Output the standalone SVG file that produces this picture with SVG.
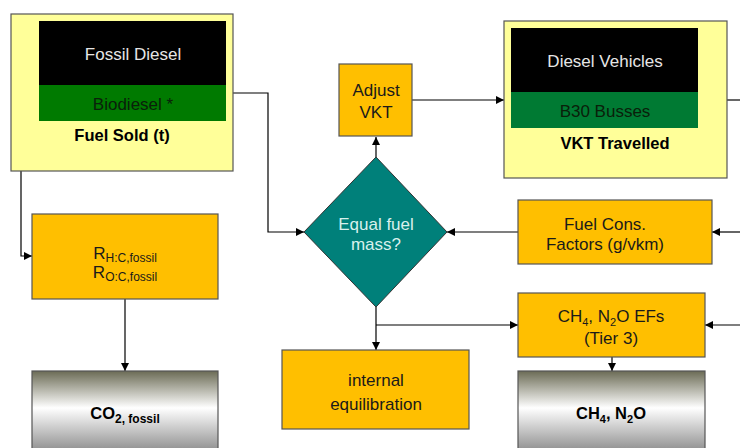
<svg xmlns="http://www.w3.org/2000/svg" width="740" height="448" viewBox="0 0 740 448">
<style>
text{font-family:"Liberation Sans",Arial,sans-serif;text-anchor:middle;font-size:17px;fill:#1a1a1a}
.b{font-weight:bold;font-size:16.5px;fill:#000}
.w{fill:#e6e6e6}
.d{fill:#0a200a}
.t{fill:#d8f0ec}
.y{fill:#ffff99;stroke:#555;stroke-width:1.2}
.o{fill:#ffbf00;stroke:#555;stroke-width:1.2}
.g{fill:url(#grad);stroke:#555;stroke-width:1.2}
.c{fill:none;stroke:#000;stroke-width:1.2}
</style>
<defs>
<linearGradient id="grad" x1="0" y1="0" x2="0" y2="1">
<stop offset="0" stop-color="#6b6b55"/>
<stop offset="0.45" stop-color="#ffffff"/>
<stop offset="1" stop-color="#8a8a8a"/>
</linearGradient>
<marker id="a" viewBox="0 0 10 10" refX="10" refY="5" markerWidth="8" markerHeight="8" markerUnits="userSpaceOnUse" orient="auto">
<path d="M0,0L10,5L0,10z" fill="#000"/>
</marker>
</defs>
<g id="connectors">
<polyline class="c" points="39,53 21,53 21,256 32,256" marker-end="url(#a)"/>
<polyline class="c" points="233,93 268,93 268,232 304,232" marker-end="url(#a)"/>
<line class="c" x1="376" y1="157" x2="376" y2="137" marker-end="url(#a)"/>
<line class="c" x1="412" y1="100" x2="504" y2="100" marker-end="url(#a)"/>
<line class="c" x1="727" y1="100" x2="740" y2="100"/>
<line class="c" x1="518" y1="232" x2="447" y2="232" marker-end="url(#a)"/>
<line class="c" x1="740" y1="232" x2="712" y2="232" marker-end="url(#a)"/>
<line class="c" x1="376" y1="307" x2="376" y2="350" marker-end="url(#a)"/>
<line class="c" x1="376" y1="325" x2="518" y2="325" marker-end="url(#a)"/>
<line class="c" x1="740" y1="325" x2="705" y2="325" marker-end="url(#a)"/>
<line class="c" x1="612" y1="357" x2="612" y2="371" marker-end="url(#a)"/>
<line class="c" x1="125" y1="299" x2="125" y2="371" marker-end="url(#a)"/>
</g>
<g id="fuel-sold">
<rect class="y" x="11" y="14" width="222" height="157"/>
<rect x="39" y="21" width="187" height="64" fill="#000"/>
<rect x="39" y="85" width="187" height="36" fill="#007a00"/>
<text class="w" x="133" y="60">Fossil Diesel</text>
<text class="d" x="133" y="110">Biodiesel *</text>
<text class="b" x="122" y="141">Fuel Sold (t)</text>
</g>
<g id="vkt-travelled">
<rect class="y" x="504" y="21" width="223" height="157"/>
<rect x="511" y="28" width="187" height="64" fill="#000"/>
<rect x="511" y="92" width="187" height="36" fill="#007a33"/>
<text class="w" x="605" y="67">Diesel Vehicles</text>
<text class="d" x="605" y="117">B30 Busses</text>
<text class="b" x="615" y="149">VKT Travelled</text>
</g>
<g id="adjust-vkt">
<rect class="o" x="339" y="64" width="73" height="72"/>
<text x="376" y="96">Adjust</text>
<text x="376" y="118">VKT</text>
</g>
<g id="equal-fuel-mass">
<polygon points="376,157 447,232 376,307 304,232" fill="#00807a" stroke="#333" stroke-width="1"/>
<text class="t" x="376" y="230">Equal fuel</text>
<text class="t" x="376" y="250">mass?</text>
</g>
<g id="fuel-cons">
<rect class="o" x="518" y="200" width="194" height="64"/>
<text x="605" y="230">Fuel Cons.</text>
<text x="605" y="250">Factors (g/vkm)</text>
</g>
<g id="ratios">
<rect class="o" x="32" y="214" width="186" height="85"/>
<text x="125" y="259">R<tspan font-size="12" dy="3">H:C,fossil</tspan></text>
<text x="125" y="278">R<tspan font-size="12" dy="3">O:C,fossil</tspan></text>
</g>
<g id="ef">
<rect class="o" x="518" y="293" width="187" height="64"/>
<text x="611" y="322">CH<tspan font-size="11" dy="4">4</tspan><tspan dy="-4">, N</tspan><tspan font-size="11" dy="4">2</tspan><tspan dy="-4">O EFs</tspan></text>
<text x="611" y="344">(Tier 3)</text>
</g>
<g id="internal-equilibration">
<rect class="o" x="282" y="350" width="187" height="79"/>
<text x="376" y="386">internal</text>
<text x="376" y="410">equilibration</text>
</g>
<g id="co2">
<rect class="g" x="32" y="371" width="186" height="82"/>
<text class="b" x="125" y="419">CO<tspan font-size="12" dy="4">2, fossil</tspan></text>
</g>
<g id="ch4-n2o">
<rect class="g" x="518" y="371" width="187" height="82"/>
<text class="b" x="611" y="419">CH<tspan font-size="11" dy="4">4</tspan><tspan dy="-4">, N</tspan><tspan font-size="11" dy="4">2</tspan><tspan dy="-4">O</tspan></text>
</g>
</svg>
